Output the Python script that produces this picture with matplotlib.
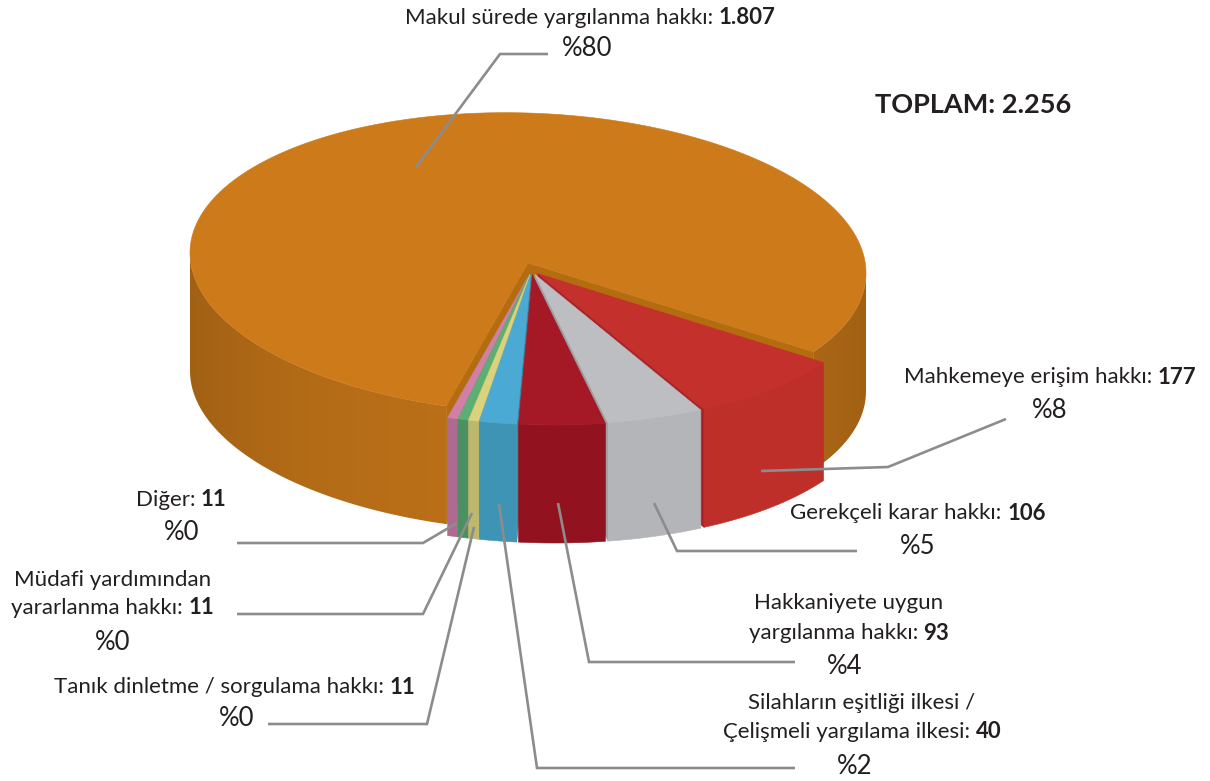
import numpy as np
import matplotlib.pyplot as plt
from matplotlib.patches import Polygon
from matplotlib.colors import to_rgb

# Data (clockwise, starting with the big slice)
categories = ['Makul sürede yargılanma hakkı',
              'Mahkemeye erişim hakkı',
              'Gerekçeli karar hakkı',
              'Hakkaniyete uygun\nyargılanma hakkı',
              'Silahların eşitliği ilkesi /\nÇelişmeli yargılama ilkesi',
              'Tanık dinletme / sorgulama hakkı',
              'Müdafi yardımından\nyararlanma hakkı',
              'Diğer']
values = [1807, 177, 106, 93, 40, 11, 11, 11]
top_colors = ['#CC7A1A', '#C4302B', '#BDBEC2', '#A51927', '#4BAAD3', '#DAD27C', '#5DAE72', '#D07FA6']
wall_colors = ['#B56C14', '#BF2F29', '#B4B5B9', '#931220', '#3E94B4', '#BEB86F', '#4A9060', '#AE6A90']
cut_colors = ['#B46C10', '#A8242A', '#9C9DA1', '#80101B', '#3A88A6', '#ADA865', '#3F7F52', '#A06080']

total = sum(values)
percents = ['%' + str(int(round(v * 100 / total))) for v in values]
counts = [f'{v:,}'.replace(',', '.') for v in values]

plt.rcParams['font.family'] = ['Lato', 'DejaVu Sans']
TXT = '#231F20'
LINE = '#8C8C8E'

fig = plt.figure(figsize=(12.1, 7.81), dpi=100)
ax = fig.add_axes([0, 0, 1, 1])
ax.set_xlim(0, 1210)
ax.set_ylim(781, 0)
ax.axis('off')

# pie geometry (pixels)
cx, cy = 528, 263
rx, ry = 338, 150
depth = 118
shear = 0.03
start_angle = 256.0
group_angle = np.radians(-78)
group_explode = 0.05
slice_explode = 0.028


def proj(th, r, z, off):
    x = cx + off[0] + r * rx * np.cos(th)
    y = cy + off[1] - r * ry * np.sin(th) + shear * r * rx * np.cos(th) + z
    return x, y


def direction(th, e):
    return (e * rx * np.cos(th), -e * ry * np.sin(th) + shear * e * rx * np.cos(th))


# slice angles
bounds = [start_angle]
for v in values:
    bounds.append(bounds[-1] - 360.0 * v / total)
slices = [(np.radians(bounds[i]), np.radians(bounds[i + 1])) for i in range(len(values))]

offsets = []
for i, (a0, a1) in enumerate(slices):
    if i == 0:
        offsets.append((0.0, 0.0))
    else:
        g = direction(group_angle, group_explode)
        s = direction((a0 + a1) / 2, slice_explode)
        offsets.append((g[0] + s[0], g[1] + s[1]))


def ang_dist(a0, a1):
    f = -np.pi / 2
    if a1 <= f <= a0:
        return 0.0
    return min(abs(a0 - f), abs(a1 - f))


order = [0] + sorted(range(1, len(values)), key=lambda i: -ang_dist(*slices[i]))

# gradient for the big slice's wall
gx = np.linspace(150, 900, 600)
c = np.clip((gx - cx) / rx, -1, 1)
fac = 0.91 - 0.12 * np.abs(c) ** 3
grad = (np.array(to_rgb(top_colors[0]))[None, :] * fac[:, None])[None, :, :]

z = 1
for i in order:
    a0, a1 = slices[i]
    off = offsets[i]
    # radial cut faces facing the viewer
    for a, vis in ((a0, np.cos(a0) < 0), (a1, np.cos(a1) > 0)):
        if vis:
            pts = [proj(a, 0, 0, off), proj(a, 1, 0, off), proj(a, 1, depth, off), proj(a, 0, depth, off)]
            ax.add_patch(Polygon(pts, closed=True, fc=cut_colors[i], ec=cut_colors[i], lw=0.4, zorder=z))
            z += 1
    # outer wall, front half only (contiguous runs)
    ths = np.linspace(a0, a1, max(int(np.degrees(a0 - a1) * 4), 8))
    front = np.sin(ths) < 0
    runs = []
    cur = []
    for t, fr in zip(ths, front):
        if fr:
            cur.append(t)
        elif cur:
            runs.append(cur)
            cur = []
    if cur:
        runs.append(cur)
    for run in runs:
        top = [proj(t, 1, 0, off) for t in run]
        bot = [proj(t, 1, depth, off) for t in run[::-1]]
        if i == 0:
            poly = Polygon(top + bot, closed=True, fc='none', ec='none', zorder=z)
            ax.add_patch(poly)
            im = ax.imshow(grad, extent=(150, 900, 600, 150), aspect='auto', zorder=z,
                           interpolation='bilinear')
            im.set_clip_path(poly)
        else:
            ax.add_patch(Polygon(top + bot, closed=True, fc=wall_colors[i], ec=wall_colors[i],
                                 lw=0.4, zorder=z))
        z += 1
    # top face
    arc = np.linspace(a0, a1, max(int(np.degrees(a0 - a1) * 2), 4))
    pts = [proj(0, 0, 0, off)] + [proj(t, 1, 0, off) for t in arc]
    ax.add_patch(Polygon(pts, closed=True, fc=top_colors[i], ec=top_colors[i], lw=0.4, zorder=z))
    z += 1

ax.set_xlim(0, 1210)
ax.set_ylim(781, 0)

# leader lines
leaders = [
    [(416, 167), (500, 54), (548, 54)],
    [(761, 471), (888, 467), (1006, 419)],
    [(654, 503), (677, 551), (857, 551)],
    [(558, 503), (589, 662), (795, 662)],
    [(499, 504), (537, 768), (795, 768)],
    [(474, 527), (427, 724), (268, 724)],
    [(472, 513), (423, 614), (237, 614)],
    [(457, 523), (423, 543), (237, 543)],
]
for pts in leaders:
    xs, ys = zip(*pts)
    ax.plot(xs, ys, color=LINE, lw=1.9, solid_capstyle='butt', solid_joinstyle='miter', zorder=z)

# label layout: center x, y of each text line, percent position
layout = [
    (590, [18], (587, 48)),
    (1050, [377], (1050, 410)),
    (918, [513], (918, 547)),
    (849, [603, 633], (845, 667)),
    (862, [703, 732], (855, 767)),
    (235, [687], (237, 718)),
    (113, [580, 608], (113, 642)),
    (181, [500], (182, 533)),
]

renderer = fig.canvas.get_renderer()
LBL = 16
PCT = 18.5

for i, (xc, ys, pp) in enumerate(layout):
    lines = categories[i].split('\n')
    for k, line in enumerate(lines[:-1]):
        ax.text(xc, ys[k], line, ha='center', va='center', fontsize=LBL, color=TXT)
    t1 = ax.text(0, ys[-1], lines[-1] + ': ', ha='left', va='center', fontsize=LBL, color=TXT)
    t2 = ax.text(0, ys[-1], counts[i], ha='left', va='center', fontsize=LBL, color=TXT, fontweight='bold')
    w1 = t1.get_window_extent(renderer).width
    w2 = t2.get_window_extent(renderer).width
    x0 = xc - (w1 + w2) / 2
    t1.set_x(x0)
    t2.set_x(x0 + w1)
    ax.text(pp[0], pp[1], percents[i], ha='center', va='center', fontsize=PCT, color=TXT)

ax.text(973, 105, 'TOPLAM: ' + f'{total:,}'.replace(',', '.'), ha='center', va='center',
        fontsize=19.5, fontweight='bold', color=TXT)

fig.savefig('out.png', dpi=100)
